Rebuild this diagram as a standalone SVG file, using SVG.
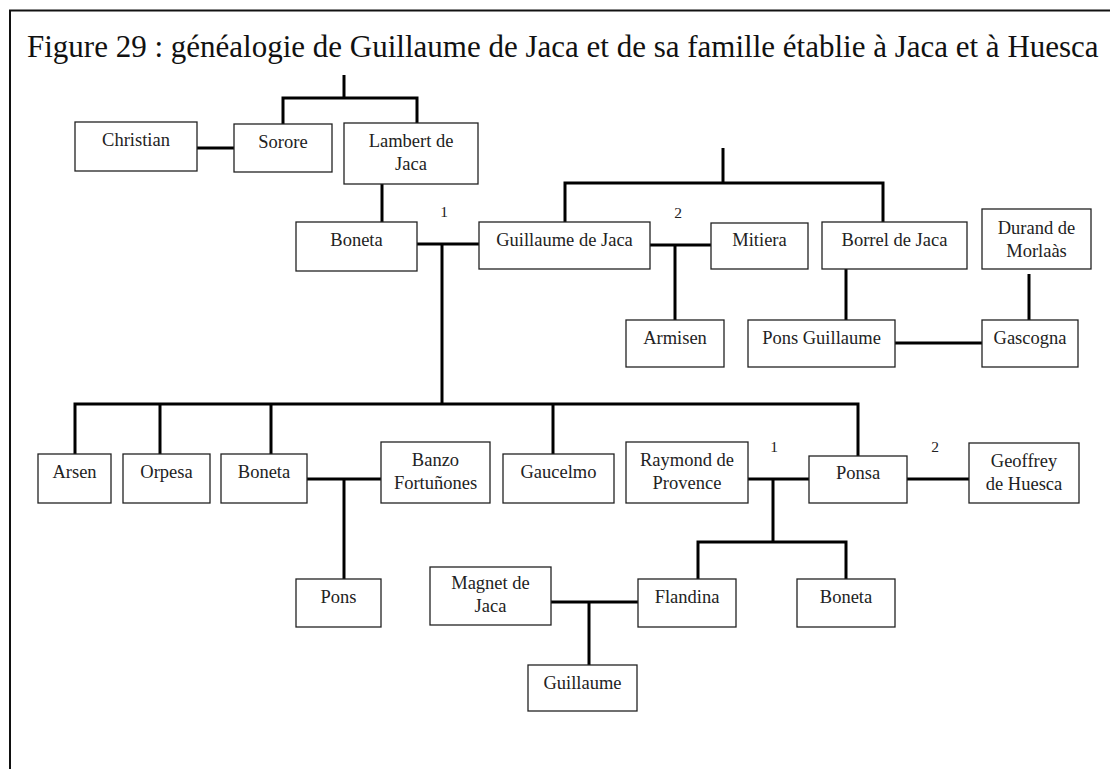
<svg xmlns="http://www.w3.org/2000/svg" width="1110" height="769" viewBox="0 0 1110 769">
<style>
.bg{fill:#fff}
.frame{fill:none;stroke:#111;stroke-width:2}
.title{font-family:"Liberation Serif","Times New Roman",serif;font-size:31px;fill:#111}
.node rect{fill:#fff;stroke:#222;stroke-width:1.3}
.node text{font-family:"Liberation Serif","Times New Roman",serif;font-size:18.5px;fill:#222;text-anchor:middle}
.conn path{fill:none;stroke:#000;stroke-width:3}
.num{font-family:"Liberation Serif","Times New Roman",serif;font-size:15.5px;fill:#222;text-anchor:middle}
</style>
<rect class="bg" x="0" y="0" width="1110" height="769"/>
<path class="frame" d="M10,775 V10.5 H1115"/>
<text class="title" x="27" y="57">Figure 29 : généalogie de Guillaume de Jaca et de sa famille établie à Jaca et à Huesca</text>

<g class="conn" id="connectors">
<path d="M344,75 V98"/>
<path d="M283,124 V98 H417 V123"/>
<path d="M197,148 H234"/>
<path d="M382,184 V222"/>
<path d="M417,244 H479"/>
<path d="M442,244 V404"/>
<path d="M565,222 V183 H883 V222"/>
<path d="M723,148 V183"/>
<path d="M650,245 H711"/>
<path d="M675,245 V320"/>
<path d="M846,269 V320"/>
<path d="M1029,274 V320"/>
<path d="M895,343 H982"/>
<path d="M75,454 V404 H858 V456"/>
<path d="M160,404 V454"/>
<path d="M271,404 V454"/>
<path d="M553,404 V454"/>
<path d="M307,479 H381"/>
<path d="M344,479 V579"/>
<path d="M748,479 H809"/>
<path d="M773,479 V542"/>
<path d="M698,579 V542 H846 V579"/>
<path d="M907,479 H969"/>
<path d="M551,602 H638"/>
<path d="M589,602 V665"/>
</g>

<g id="labels">
<text class="num" x="444" y="217">1</text>
<text class="num" x="678" y="218">2</text>
<text class="num" x="774" y="452">1</text>
<text class="num" x="935" y="452">2</text>
</g>

<g class="node" id="christian"><rect x="75" y="122" width="122" height="49"/><text x="136" y="146">Christian</text></g>
<g class="node" id="sorore"><rect x="234" y="124" width="98" height="48"/><text x="283" y="148">Sorore</text></g>
<g class="node" id="lambert"><rect x="344" y="123" width="134" height="61"/><text x="411" y="147">Lambert de</text><text x="411" y="170">Jaca</text></g>
<g class="node" id="boneta1"><rect x="296" y="222" width="121" height="49"/><text x="356.5" y="246">Boneta</text></g>
<g class="node" id="guillaume-de-jaca"><rect x="479" y="222" width="171" height="47"/><text x="564.5" y="246">Guillaume de Jaca</text></g>
<g class="node" id="mitiera"><rect x="711" y="223" width="97" height="46"/><text x="759.5" y="246">Mitiera</text></g>
<g class="node" id="borrel"><rect x="822" y="222" width="145" height="47"/><text x="894.5" y="246">Borrel de Jaca</text></g>
<g class="node" id="durand"><rect x="982" y="209" width="109" height="60"/><text x="1036.5" y="234">Durand de</text><text x="1036.5" y="257">Morlaàs</text></g>
<g class="node" id="armisen"><rect x="626" y="320" width="98" height="47"/><text x="675" y="344">Armisen</text></g>
<g class="node" id="pons-guillaume"><rect x="748" y="320" width="147" height="47"/><text x="821.5" y="344">Pons Guillaume</text></g>
<g class="node" id="gascogna"><rect x="982" y="320" width="96" height="47"/><text x="1030" y="344">Gascogna</text></g>
<g class="node" id="arsen"><rect x="38" y="454" width="73" height="49"/><text x="74.5" y="478">Arsen</text></g>
<g class="node" id="orpesa"><rect x="123" y="454" width="87" height="49"/><text x="166.5" y="478">Orpesa</text></g>
<g class="node" id="boneta2"><rect x="221" y="454" width="86" height="49"/><text x="264" y="478">Boneta</text></g>
<g class="node" id="banzo"><rect x="381" y="442" width="109" height="61"/><text x="435.5" y="466">Banzo</text><text x="435.5" y="489">Fortuñones</text></g>
<g class="node" id="gaucelmo"><rect x="503" y="454" width="111" height="49"/><text x="558.5" y="478">Gaucelmo</text></g>
<g class="node" id="raymond"><rect x="626" y="442" width="122" height="61"/><text x="687" y="466">Raymond de</text><text x="687" y="489">Provence</text></g>
<g class="node" id="ponsa"><rect x="809" y="456" width="98" height="47"/><text x="858" y="479">Ponsa</text></g>
<g class="node" id="geoffrey"><rect x="969" y="443" width="110" height="60"/><text x="1024" y="467">Geoffrey</text><text x="1024" y="490">de Huesca</text></g>
<g class="node" id="pons"><rect x="296" y="579" width="85" height="48"/><text x="338.5" y="603">Pons</text></g>
<g class="node" id="magnet"><rect x="430" y="567" width="121" height="58"/><text x="490.5" y="589">Magnet de</text><text x="490.5" y="612">Jaca</text></g>
<g class="node" id="flandina"><rect x="638" y="579" width="98" height="48"/><text x="687" y="603">Flandina</text></g>
<g class="node" id="boneta3"><rect x="797" y="579" width="98" height="48"/><text x="846" y="603">Boneta</text></g>
<g class="node" id="guillaume"><rect x="528" y="665" width="109" height="46"/><text x="582.5" y="689">Guillaume</text></g>
</svg>
